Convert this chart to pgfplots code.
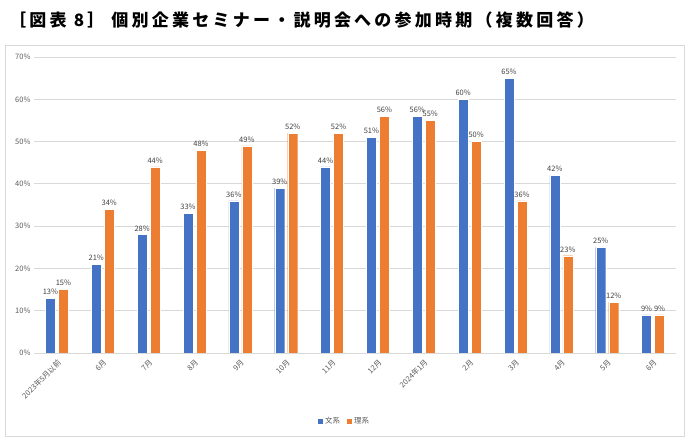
\documentclass[border=0pt]{standalone}
\usepackage{fontspec}
\setmainfont{Noto Sans CJK JP}
\usepackage{pgfplots}
\pgfplotsset{compat=1.18}
\definecolor{bblue}{HTML}{4472C4}
\definecolor{borange}{HTML}{ED7D31}
\definecolor{gridc}{HTML}{D9D9D9}
\definecolor{txt}{HTML}{595959}
\definecolor{lbl}{HTML}{404040}
\begin{document}
\begin{tikzpicture}[x=1pt,y=1pt]
\useasboundingbox (0,0) rectangle (689,442);
\draw[gridc, line width=0.8pt] (5,6) rectangle (684,397);
\node[anchor=base west, inner sep=0pt, font=\fontsize{17}{20}\selectfont\bfseries\addfontfeature{LetterSpace=19}] at (9,415) {［図表 8］ 個別企業セミナー・説明会への参加時期（複数回答）};
\begin{axis}[
  at={(34pt,89pt)}, anchor=south west,
  scale only axis, width=642pt, height=296pt,
  ybar=3pt, bar width=10pt,
  xmin=-0.5, xmax=13.5, ymin=0, ymax=70,
  xtick={0,...,13},
  xticklabels={2023年5月以前,6月,7月,8月,9月,10月,11月,12月,2024年1月,2月,3月,4月,5月,6月},
  ytick={0,10,...,70},
  yticklabel={\pgfmathprintnumber{\tick}\%},
  /pgf/number format/assume math mode=true,
  ymajorgrids, grid style={gridc, line width=0.8pt},
  axis line style={draw=none}, tick style={draw=none},
  yticklabel style={font=\fontsize{7.5}{8}\selectfont, color=txt},
  xticklabel style={rotate=45, anchor=north east, inner sep=1pt, font=\fontsize{7.5}{8}\selectfont, color=txt},
  nodes near coords={\pgfmathprintnumber{\pgfplotspointmeta}\%},
  nodes near coords style={font=\fontsize{7.5}{8}\selectfont, color=lbl},
  legend style={at={(axis description cs:0.484,-0.23)}, anchor=center, draw=none,
    legend columns=2, font=\fontsize{7.5}{9}\selectfont, text=txt,
    /tikz/every even column/.append style={column sep=5pt}},
  legend image code/.code={\fill[#1,draw=none] (0pt,-2.5pt) rectangle (5pt,2.5pt);},
]
\addplot[fill=bblue, draw=white, line width=0.3pt] coordinates {
 (0,13) (1,21) (2,28) (3,33) (4,36) (5,39) (6,44) (7,51) (8,56) (9,60) (10,65) (11,42) (12,25) (13,9)};
\addplot[fill=borange, draw=white, line width=0.3pt] coordinates {
 (0,15) (1,34) (2,44) (3,48) (4,49) (5,52) (6,52) (7,56) (8,55) (9,50) (10,36) (11,23) (12,12) (13,9)};
\legend{文系,理系}
\end{axis}
\end{tikzpicture}
\end{document}
